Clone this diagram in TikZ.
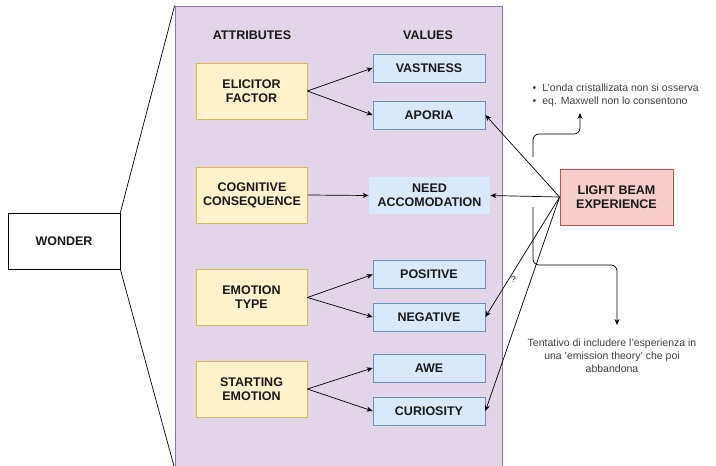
\documentclass[tikz,border=0pt]{standalone}
\usepackage{fontspec}
\setmainfont{Liberation Sans}
\usepackage{tikz}
\usetikzlibrary{shapes,arrows,fit,positioning,arrows.meta}
\usetikzlibrary{backgrounds}

\definecolor{attrfill}{HTML}{FFF2CC}
\definecolor{attrline}{HTML}{D6B656}
\definecolor{valfill}{HTML}{DAE8FC}
\definecolor{valline}{HTML}{6C8EBF}
\definecolor{groupfill}{HTML}{E1D5E7}
\definecolor{groupline}{HTML}{9673A6}
\definecolor{expfill}{HTML}{F8CECC}
\definecolor{expline}{HTML}{B85450}

\begin{document}
\begin{tikzpicture}[x=1pt, y=-1pt, >={Stealth[length=6pt,width=5pt]}, line width=0.7pt]
	\tikzstyle{label_style}=[font=\fontsize{12.5}{14}\selectfont\bfseries, align=center, text=black!90]
	\tikzstyle{attr_style}=[rectangle, draw=attrline, fill=attrfill, line width=0.8pt, minimum width=111pt, minimum height=56pt, label_style]
	\tikzstyle{value_style}=[rectangle, draw=valline, fill=valfill, line width=0.8pt, minimum width=112pt, minimum height=28pt, label_style]
	\tikzstyle{note_style}=[font=\fontsize{10.5}{13}\selectfont, text=black!75, align=center]
	\useasboundingbox (0,0) rectangle (716,466);

	% wonder + group
	\node at (64, 241) [rectangle, draw, fill=white, minimum width=112pt, minimum height=56pt, label_style] (wonder) {WONDER};
	\node at (338.5, 237) [rectangle, draw=groupline, fill=groupfill, line width=0.8pt, minimum width=327pt, minimum height=462pt] (group) {};
	\draw (wonder.north east) -- (group.north west);
	\draw (wonder.south east) -- (group.south west);

	% headers
	\node at (252, 35) [label_style] (attr_head) {ATTRIBUTES};
	\node at (428, 35) [label_style] (val_head) {VALUES};

	% attributes
	\node at (251.5, 91) [attr_style] (elicitor) {ELICITOR\\FACTOR};
	\node at (252, 195) [attr_style] (cognitive) {COGNITIVE\\CONSEQUENCE};
	\node at (251.5, 297.5) [attr_style] (emotion) {EMOTION\\TYPE};
	\node at (251.5, 389) [attr_style] (starting) {STARTING\\EMOTION};

	% values
	\node at (429, 68) [value_style] (vastness) {VASTNESS};
	\node at (429, 115) [value_style] (aporia) {APORIA};
	\node at (429.5, 195.5) [value_style, draw=none, minimum width=121pt, minimum height=37pt] (need) {NEED\\ACCOMODATION};
	\node at (429, 274.5) [value_style] (positive) {POSITIVE};
	\node at (429, 317) [value_style] (negative) {NEGATIVE};
	\node at (429, 368) [value_style] (awe) {AWE};
	\node at (429, 411) [value_style] (curiosity) {CURIOSITY};

	% experience
	\node at (616.5, 197) [rectangle, draw=expline, fill=expfill, line width=0.8pt, minimum width=113pt, minimum height=56pt, label_style] (light) {LIGHT BEAM\\EXPERIENCE};

	% notes
	\node at (529, 95.5) [anchor=west, note_style, align=left] (notes) {\textbullet\hspace{6pt}L'onda cristallizata non si osserva\\\textbullet\hspace{6pt}eq. Maxwell non lo consentono};
	\node at (612, 356) [note_style] (tentativo) {Tentativo di includere l'esperienza in\\una 'emission theory' che poi\\abbandona};
	\coordinate (notes_from) at (533, 157);
	\coordinate (notes_to) at (580, 113);
	\coordinate (tent_from) at (533, 207);
	\coordinate (tent_to) at (617, 325);

	% connect: attributes -> values
	\foreach \a/\v in {elicitor/vastness, elicitor/aporia, cognitive/need, emotion/positive, emotion/negative, starting/awe, starting/curiosity}
		\draw[->] (\a.east) -- (\v.west);

	% connect: experience -> values
	\foreach \v in {aporia, need, curiosity}
		\draw[->] (light.west) -- (\v.east);
	\draw[->] (light.west) -- node[pos=0.69, right, inner sep=2pt, note_style, font=\fontsize{9}{10}\selectfont] {?} (negative.east);

	% connect: notes
	\draw[->, rounded corners=6pt] (notes_from) |- (580, 134) -- (notes_to);
	\draw[->, rounded corners=6pt] (tent_from) |- (617, 265) -- (tent_to);

\end{tikzpicture}
\end{document}
